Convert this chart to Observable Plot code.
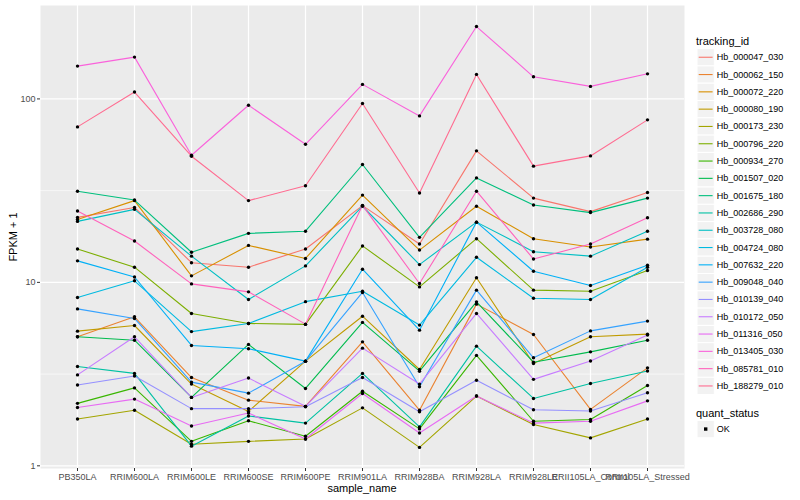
<!DOCTYPE html>
<html><head><meta charset="utf-8">
<script src="https://cdn.jsdelivr.net/npm/d3@7"></script>
<script src="https://cdn.jsdelivr.net/npm/@observablehq/plot@0.6"></script>
<style>body{margin:0;background:#fff;} #chart{width:800px;height:500px;}</style>
</head><body><div id="chart"></div>
<script>
const samples = ["PB350LA","RRIM600LA","RRIM600LE","RRIM600SE","RRIM600PE","RRIM901LA","RRIM928BA","RRIM928LA","RRIM928LE","RRII105LA_Control","RRII105LA_Stressed"];
const trackingIds = ["Hb_000047_030","Hb_000062_150","Hb_000072_220","Hb_000080_190","Hb_000173_230","Hb_000796_220","Hb_000934_270","Hb_001507_020","Hb_001675_180","Hb_002686_290","Hb_003728_080","Hb_004724_080","Hb_007632_220","Hb_009048_040","Hb_010139_040","Hb_010172_050","Hb_011316_050","Hb_013405_030","Hb_085781_010","Hb_188279_010"];
const hueColors = ["#F8766D","#EA8331","#D89000","#C09B00","#A3A500","#7CAE00","#39B600","#00BB4E","#00BF7D","#00C1A3","#00BFC4","#00BAE0","#00B0F6","#35A2FF","#9590FF","#C77CFF","#E76BF3","#FA62DB","#FF62BC","#FF6C91"];
const quantStatus = ["OK"];
const yTicks = [1, 10, 100];

// FPKM + 1 per sample (order of `samples`)
const hb000047 = [22.6, 25.6, 12.8, 12.1, 15.2, 26.2, 16.2, 52.1, 28.8, 24.3, 30.9];
const hb000062 = [5.05, 6.49, 3.03, 2.28, 2.11, 4.74, 2.01, 7.61, 5.20, 2.03, 3.42];
const hb000072 = [22.0, 27.9, 10.85, 15.9, 13.5, 29.9, 15.0, 26.0, 17.3, 15.6, 17.2];
const hb000080 = [5.42, 5.82, 2.79, 1.98, 3.72, 6.54, 3.35, 10.6, 3.61, 5.05, 5.22];
const hb000173 = [1.80, 2.01, 1.31, 1.36, 1.40, 2.07, 1.26, 2.40, 1.68, 1.42, 1.80];
const hb000796 = [15.2, 12.1, 6.77, 5.97, 5.90, 15.8, 9.45, 17.3, 9.07, 8.95, 11.6];
const hb000934 = [2.19, 2.66, 1.36, 1.76, 1.45, 2.55, 1.59, 4.00, 1.75, 1.79, 2.74];
const hb001507 = [5.05, 4.84, 2.36, 4.59, 2.64, 6.05, 3.28, 7.83, 3.67, 4.18, 4.84];
const hb001675 = [31.4, 28.1, 14.6, 18.5, 19.0, 43.9, 17.6, 37.1, 26.4, 24.0, 28.8];
const hb002686 = [3.48, 3.19, 1.28, 1.87, 1.71, 3.19, 1.63, 4.49, 2.33, 2.81, 3.29];
const hb003728 = [21.5, 25.0, 13.9, 8.07, 12.3, 26.0, 12.5, 21.3, 14.7, 13.9, 19.0];
const hb004724 = [8.27, 10.2, 5.39, 5.97, 7.85, 8.95, 5.85, 13.7, 8.20, 8.07, 12.1];
const hb007632 = [13.1, 10.7, 4.53, 4.35, 3.72, 11.8, 5.49, 21.3, 11.5, 9.62, 12.4];
const hb009048 = [7.17, 6.36, 2.86, 2.49, 3.72, 8.81, 2.70, 9.07, 3.88, 5.44, 6.15];
const hb010139 = [2.76, 3.09, 2.05, 2.05, 2.10, 3.03, 1.97, 2.93, 2.02, 1.99, 2.50];
const hb010172 = [3.13, 5.05, 2.36, 3.01, 2.11, 4.38, 2.79, 6.77, 2.96, 3.73, 5.16];
const hb011316 = [2.08, 2.31, 1.65, 1.94, 1.40, 2.48, 1.51, 2.40, 1.71, 1.75, 2.26];
const hb013405 = [151, 169, 49.3, 92.4, 56.6, 120, 80.8, 248, 132, 117, 137];
const hb085781 = [24.5, 16.8, 9.81, 8.88, 5.92, 26.3, 9.86, 31.4, 13.4, 16.2, 22.5];
const hb188279 = [70.4, 109, 48.7, 27.9, 33.6, 94.4, 30.7, 136, 43.0, 48.9, 76.9];

const seriesList = [hb000047, hb000062, hb000072, hb000080, hb000173, hb000796, hb000934, hb001507, hb001675, hb002686, hb003728, hb004724, hb007632, hb009048, hb010139, hb010172, hb011316, hb013405, hb085781, hb188279];

const data = [];
seriesList.forEach((vals, i) => vals.forEach((v, j) => data.push({id: trackingIds[i], sample: samples[j], value: v, status: "OK"})));

const font = "'Liberation Sans', Arial, Helvetica, sans-serif";
const plot = Plot.plot({
  width: 800, height: 500,
  marginLeft: 40, marginRight: 116, marginTop: 5, marginBottom: 32,
  style: {fontFamily: font, background: "white", overflow: "visible"},
  x: {type: "point", domain: samples, padding: 0.6, label: null},
  y: {type: "log", domain: [0.967, 323], label: null},
  color: {domain: trackingIds, range: hueColors},
  marks: [
    Plot.frame({fill: "#EBEBEB", stroke: null}),
    Plot.gridY([Math.sqrt(10), Math.sqrt(1000)], {stroke: "white", strokeOpacity: 1, strokeWidth: 0.6}),
    Plot.gridY(yTicks, {stroke: "white", strokeOpacity: 1, strokeWidth: 1.2}),
    Plot.gridX(samples, {stroke: "white", strokeOpacity: 1, strokeWidth: 1.2}),
    Plot.axisY(yTicks, {tickSize: 3, tickPadding: 2, tickFormat: d => String(d), fontSize: 9, fill: "#4D4D4D", stroke: "#333333", label: null}),
    Plot.axisX(samples, {tickSize: 3, tickPadding: 2, fontSize: 9, fill: "#4D4D4D", stroke: "#333333", label: null}),
    Plot.line(data, {x: "sample", y: "value", z: "id", stroke: "id", strokeWidth: 1.1}),
    Plot.dot(data, {x: "sample", y: "value", r: 1.7, fill: "black", stroke: null})
  ]
});
document.getElementById("chart").appendChild(plot);

const svg = d3.select(plot);
// axis titles
svg.append("text").attr("transform", "translate(13,237) rotate(-90)")
  .attr("text-anchor", "middle").attr("dominant-baseline", "central")
  .attr("font-size", 11).attr("fill", "black").attr("font-family", font).text("FPKM + 1");
svg.append("text").attr("x", 362).attr("y", 488)
  .attr("text-anchor", "middle").attr("dominant-baseline", "central")
  .attr("font-size", 11).attr("fill", "black").attr("font-family", font).text("sample_name");

// legend: tracking_id
const lg = svg.append("g").attr("font-family", font).attr("text-anchor", "start");
lg.append("text").attr("x", 696).attr("y", 40.7).attr("dominant-baseline", "central")
  .attr("text-anchor", "start").attr("font-size", 11).attr("fill", "black").text("tracking_id");
const keyH = 17.3, key0 = 48.6;
trackingIds.forEach((id, i) => {
  const y = key0 + i * keyH;
  lg.append("rect").attr("x", 697).attr("y", y).attr("width", 17.3).attr("height", keyH)
    .attr("fill", "#F2F2F2").attr("stroke", "white").attr("stroke-width", 1);
  lg.append("line").attr("x1", 698.7).attr("x2", 712.6).attr("y1", y + keyH / 2).attr("y2", y + keyH / 2)
    .attr("stroke", hueColors[i]).attr("stroke-width", 1.1);
  lg.append("text").attr("x", 716.7).attr("y", y + keyH / 2).attr("dominant-baseline", "central")
    .attr("text-anchor", "start").attr("font-size", 9).attr("fill", "black").text(id);
});
// legend: quant_status
lg.append("text").attr("x", 696).attr("y", 412.7).attr("dominant-baseline", "central")
  .attr("text-anchor", "start").attr("font-size", 11).attr("fill", "black").text("quant_status");
quantStatus.forEach((s, i) => {
  const y = 420.4 + i * keyH;
  lg.append("rect").attr("x", 697).attr("y", y).attr("width", 17.3).attr("height", keyH)
    .attr("fill", "#F2F2F2").attr("stroke", "white");
  lg.append("rect").attr("x", 704).attr("y", y + keyH / 2 - 1.7).attr("width", 3.4).attr("height", 3.4).attr("fill", "black");
  lg.append("text").attr("x", 716.7).attr("y", y + keyH / 2).attr("dominant-baseline", "central")
    .attr("text-anchor", "start").attr("font-size", 9).attr("fill", "black").text(s);
});
</script>
</body></html>
